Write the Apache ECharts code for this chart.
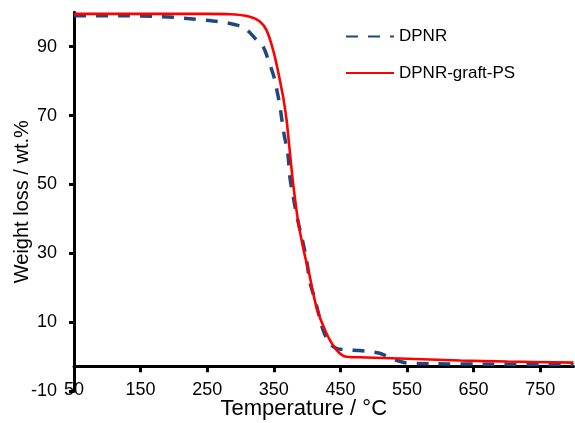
<!DOCTYPE html>
<html>
<head>
<meta charset="utf-8">
<script src="https://cdn.jsdelivr.net/npm/echarts@6/dist/echarts.min.js"></script>
<style>
html,body{margin:0;padding:0;background:#fff;}
#c{width:575px;height:423px;}
</style>
</head>
<body>
<div id="c"></div>
<script>
const xTicks = [50, 150, 250, 350, 450, 550, 650, 750];
const yTicks = [-10, 10, 30, 50, 70, 90];

const dpnrT = [50, 100, 150, 200, 240, 270, 294, 307, 324, 334, 342, 347, 352, 355, 359, 365, 371, 374, 380, 387, 394, 400, 404, 412, 424, 434, 444, 460, 479, 495, 509, 518, 529, 554, 630, 700, 800];
const dpnrW = [99.0, 99.0, 98.9, 98.5, 97.8, 97.2, 96.3, 95.3, 92.0, 90.0, 86.0, 83.2, 80.0, 77.0, 73.0, 65.0, 59.0, 52.3, 45.5, 38.7, 33.0, 27.1, 21.8, 16.5, 7.8, 3.9, 2.45, 2.0, 1.8, 1.5, 1.0, 0.3, -0.7, -1.9, -2.1, -2.2, -2.3];

const graftT = [50, 150, 250, 284, 314, 329, 339, 349, 357, 362, 364, 369, 372, 379, 387, 397, 402, 414, 429, 444, 459, 489, 539, 630, 700, 800];
const graftW = [99.5, 99.5, 99.5, 99.4, 98.7, 97.3, 94.8, 89.0, 82.3, 77.4, 75.5, 69.0, 63.5, 50.3, 38.7, 29.0, 25.2, 14.5, 6.8, 2.0, 0.0, -0.2, -0.5, -1.1, -1.4, -1.7];

const zip = (a, b) => a.map((v, i) => [v, b[i]]);

const FONT = '"Liberation Sans", Arial, sans-serif';
const chart = echarts.init(document.getElementById('c'), null, {renderer: 'canvas'});
chart.setOption({
  animation: false,
  backgroundColor: '#ffffff',
  grid: {left: 74, right: 1.5, top: 12.2, bottom: 31.8, containLabel: false, outerBoundsMode: 'none'},
  legend: {
    orient: 'vertical',
    left: 345,
    top: 28,
    padding: 0,
    itemWidth: 48,
    itemHeight: 14,
    itemGap: 19.5,
    itemStyle: {opacity: 0},
    textStyle: {fontFamily: FONT, fontSize: 17, color: '#000'},
    data: ['DPNR', 'DPNR-graft-PS']
  },
  xAxis: {
    type: 'value',
    min: 50, max: 800,
    offset: -25,
    name: 'Temperature / °C',
    nameLocation: 'middle',
    nameGap: 32,
    nameMoveOverlap: false,
    nameTextStyle: {fontFamily: FONT, fontSize: 22, color: '#000', padding: [0, 40, 0, 0]},
    axisLine: {show: true, onZero: false, lineStyle: {color: '#000', width: 3}},
    axisTick: {show: true, inside: false, length: 6, customValues: xTicks, lineStyle: {color: '#000', width: 3}},
    axisLabel: {customValues: xTicks, margin: 15, fontFamily: FONT, fontSize: 18, color: '#000'},
    splitLine: {show: false}
  },
  yAxis: {
    type: 'value',
    min: -10, max: 100,
    name: 'Weight loss / wt.%',
    nameLocation: 'middle',
    nameGap: 42,
    nameMoveOverlap: false,
    nameTextStyle: {fontFamily: FONT, fontSize: 20, color: '#000'},
    axisLine: {show: true, onZero: false, lineStyle: {color: '#000', width: 3}},
    axisTick: {show: true, inside: false, length: 5, customValues: yTicks, lineStyle: {color: '#000', width: 3}},
    axisLabel: {customValues: yTicks, margin: 17, fontFamily: FONT, fontSize: 18, color: '#000'},
    splitLine: {show: false}
  },
  series: [
    {
      name: 'DPNR',
      type: 'line',
      data: zip(dpnrT, dpnrW),
      showSymbol: false,
      symbol: 'none',
      smooth: 0.35,
      lineStyle: {color: '#1F497D', width: 3.5, type: [12, 10]},
      itemStyle: {color: '#1F497D'}
    },
    {
      name: 'DPNR-graft-PS',
      type: 'line',
      data: zip(graftT, graftW),
      showSymbol: false,
      symbol: 'none',
      smooth: 0.35,
      lineStyle: {color: '#FF0000', width: 2.6},
      itemStyle: {color: '#FF0000'}
    }
  ]
});
</script>
</body>
</html>
